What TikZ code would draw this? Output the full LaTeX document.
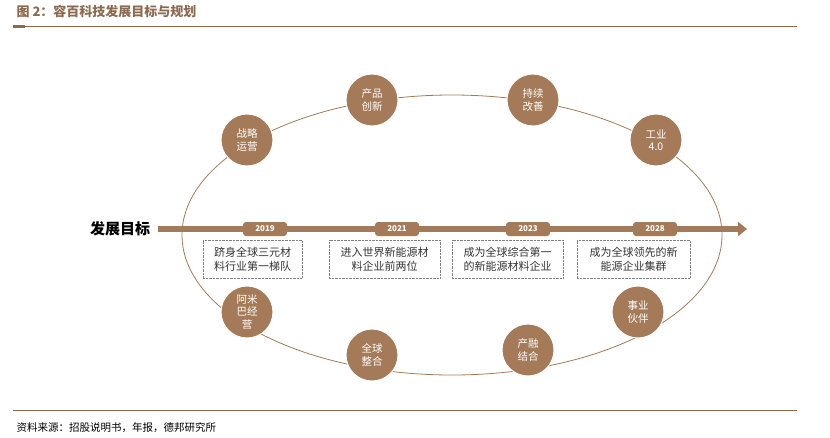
\documentclass[tikz,border=0pt]{standalone}
\usepackage{fontspec}
\usetikzlibrary{arrows.meta}
\setmainfont{Noto Sans CJK SC}
\newfontfamily\cjk{Noto Sans CJK SC}
\definecolor{brn}{HTML}{A47A58}
\definecolor{ttl}{HTML}{8C6A4E}
\tikzset{
	aim/.style={circle,fill=brn,draw=white,line width=1pt,minimum size=52pt,inner sep=0pt,text=white,font=\fontsize{10.5}{12.5}\selectfont,align=center},
	year/.style={rounded corners=3pt,fill=brn,minimum width=44pt,minimum height=14pt,inner sep=0pt,text=white,font=\fontsize{8}{9}\selectfont\bfseries},
	goal/.style={draw=gray,densely dotted,minimum height=38pt,inner sep=2pt,align=center,font=\fontsize{11}{14}\selectfont,text=black!80},
}
\begin{document}
\begin{tikzpicture}[x=1pt,y=-1pt]

		\useasboundingbox (0,0) rectangle (830,437);

		% title and rules
		\node[anchor=west,text=ttl,font=\fontsize{13}{14}\selectfont\bfseries] (title) at (13,12) {图 2：容百科技发展目标与规划};
		\draw[ttl,line width=1pt] (13,26) -- (797,26);
		\draw[ttl,line width=3pt] (13,26) -- (25,26);
		\draw[ttl,line width=1pt] (13,410) -- (797,410);
		\node[anchor=west,font=\fontsize{10.5}{12}\selectfont] (src) at (13,428) {资料来源：招股说明书，年报，德邦研究所};

		% ring
		\draw[brn,line width=0.8pt] (452,235) ellipse (270 and 140);

		% axis
		\node[font=\fontsize{15}{16}\selectfont\bfseries] (aimlbl) at (120,229) {发展目标};
		\coordinate (axend) at (747,229);
		\draw[brn,line width=6pt,-{Triangle[length=9pt,width=14pt]}] (158,229) -- (axend);

		\node[aim] (c1) at (247,140) {战略\\运营};
		\node[aim] (c2) at (372,100) {产品\\创新};
		\node[aim] (c3) at (533,100) {持续\\改善};
		\node[aim] (c4) at (656,140) {工业\\4.0};
		\node[aim] (c5) at (247,312) {阿米\\巴经\\营};
		\node[aim] (c6) at (372,355) {全球\\整合};
		\node[aim] (c7) at (528,350) {产融\\结合};
		\node[aim] (c8) at (638,312) {事业\\伙伴};

		\node[year] (y1) at (265,229) {2019};
		\node[year] (y2) at (397,229) {2021};
		\node[year] (y3) at (528,229) {2023};
		\node[year] (y4) at (655,229) {2028};

		\node[goal,minimum width=99pt] (g1) at (252.5,259) {跻身全球三元材\\料行业第一梯队};
		\node[goal,minimum width=111pt] (g2) at (384.5,259) {进入世界新能源材\\料企业前两位};
		\node[goal,minimum width=111pt] (g3) at (507.5,259) {成为全球综合第一\\的新能源材料企业};
		\node[goal,minimum width=113pt] (g4) at (633.5,259) {成为全球领先的新\\能源企业集群};

\end{tikzpicture}
\end{document}
